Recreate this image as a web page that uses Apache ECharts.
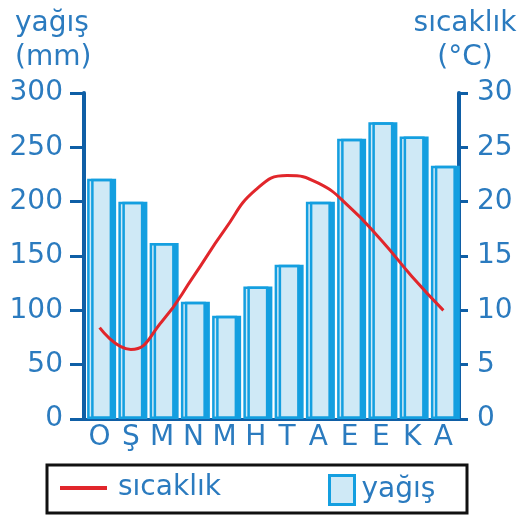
<!DOCTYPE html>
<html>
<head>
<meta charset="utf-8">
<style>
  html, body { margin: 0; padding: 0; background: #ffffff; }
  #chart { width: 522px; height: 519px; }
</style>
<script src="https://cdn.jsdelivr.net/npm/echarts@6/dist/echarts.min.js"></script>
</head>
<body>
<div id="chart"></div>
<script>
// Month initials (Ocak … Aralık)
const months = ['O', 'Ş', 'M', 'N', 'M', 'H', 'T', 'A', 'E', 'E', 'K', 'A'];
// Monthly precipitation, mm
const precipitation = [221, 200, 162, 108, 95, 122, 142, 200, 258, 273, 260, 233];
// Monthly mean temperature, °C
const temperature = [8.4, 6.4, 9.0, 13.1, 17.4, 21.1, 22.4, 21.7, 19.5, 16.5, 13.1, 10.0];
// Axis ranges
const rainTicks = { min: 0, max: 300, interval: 50 };
const tempTicks = { min: 0, max: 30, interval: 5 };

const FONT = 'DejaVu Sans';
const TEXT = '#2b7bbf';
const AXIS = '#0f5fa6';
const BAR_EDGE = '#149fe0';
const BAR_FILL = '#cfe9f6';
const RED = '#e1262b';

const chart = echarts.init(document.getElementById('chart'), null, { renderer: 'canvas' });

chart.setOption({
  backgroundColor: '#ffffff',
  animation: false,
  textStyle: { fontFamily: FONT },
  title: [
    {
      text: 'yağış\n(mm)',
      left: 10, top: 2,
      textStyle: { fontFamily: FONT, fontSize: 28, fontWeight: 'normal', color: TEXT, lineHeight: 34 }
    },
    {
      text: 'sıcaklık\n(°C)',
      left: 460, top: 2, textAlign: 'center',
      textStyle: { fontFamily: FONT, fontSize: 28, fontWeight: 'normal', color: TEXT, lineHeight: 34, align: 'center' }
    }
  ],
  grid: { left: 84, right: 63, top: 93, bottom: 100, containLabel: false },
  xAxis: {
    type: 'category',
    data: months,
    boundaryGap: true,
    axisLine: { lineStyle: { color: AXIS, width: 3 } },
    axisTick: { show: false },
    axisLabel: { color: TEXT, fontFamily: FONT, fontSize: 28, margin: 5, interval: 0 }
  },
  yAxis: [
    {
      type: 'value',
      position: 'left',
      min: rainTicks.min, max: rainTicks.max, interval: rainTicks.interval,
      splitLine: { show: false },
      axisLine: { show: true, lineStyle: { color: AXIS, width: 4 } },
      axisTick: { show: true, inside: false, length: 14, lineStyle: { color: AXIS, width: 3 } },
      axisLabel: { color: TEXT, fontFamily: FONT, fontSize: 28, margin: 21 }
    },
    {
      type: 'value',
      position: 'right',
      min: tempTicks.min, max: tempTicks.max, interval: tempTicks.interval,
      splitLine: { show: false },
      axisLine: { show: true, lineStyle: { color: AXIS, width: 4 } },
      axisTick: { show: true, inside: false, length: 9, lineStyle: { color: AXIS, width: 3 } },
      axisLabel: { color: TEXT, fontFamily: FONT, fontSize: 28, margin: 18 }
    }
  ],
  legend: [
    {
      data: [{ name: 'sıcaklık', icon: 'rect' }],
      left: 60, top: 474, padding: 0,
      itemWidth: 47, itemHeight: 4, itemGap: 0,
      textStyle: { color: TEXT, fontFamily: FONT, fontSize: 28, padding: [0, 0, 0, 6] },
      itemStyle: { color: RED, borderWidth: 0 },
      selectedMode: false
    },
    {
      data: [{ name: 'yağış', icon: 'rect' }],
      left: 328, top: 474, padding: 0,
      itemWidth: 25, itemHeight: 29, itemGap: 0,
      textStyle: { color: TEXT, fontFamily: FONT, fontSize: 28, padding: [0, 0, 0, 2] },
      itemStyle: {
        color: BAR_FILL, borderColor: BAR_EDGE, borderWidth: 3,
        shadowBlur: 0, shadowOffsetX: 0, shadowColor: 'rgba(0,0,0,0)'
      },
      selectedMode: false
    }
  ],
  graphic: [
    {
      type: 'rect',
      shape: { x: 47, y: 465, width: 420, height: 48 },
      style: { fill: 'none', stroke: '#111111', lineWidth: 3 },
      silent: true
    }
  ],
  series: [
    {
      name: 'yağış',
      type: 'bar',
      yAxisIndex: 0,
      data: precipitation,
      barWidth: 25,
      itemStyle: {
        color: BAR_FILL,
        borderColor: BAR_EDGE,
        borderWidth: 2.5,
        shadowColor: BAR_EDGE,
        shadowBlur: 0,
        shadowOffsetX: 4,
        shadowOffsetY: 0
      },
      z: 2
    },
    {
      name: 'sıcaklık',
      type: 'line',
      yAxisIndex: 1,
      data: temperature,
      smooth: 0.5,
      symbol: 'none',
      lineStyle: { color: RED, width: 3 },
      itemStyle: { color: RED },
      z: 5
    }
  ]
});
</script>
</body>
</html>
